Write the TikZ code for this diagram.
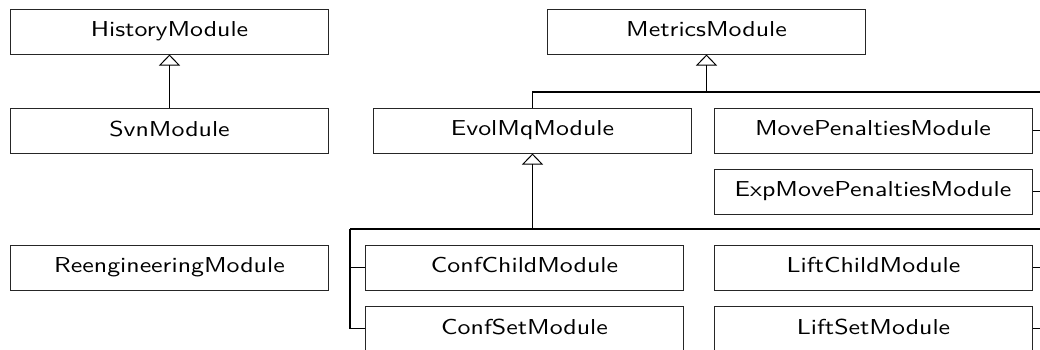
\documentclass[tikz,border=0pt]{standalone}
\usepackage{graphicx}
\usetikzlibrary{arrows.meta}
% module names: 10pt sans serif, enlarged and widened
\newcommand{\modname}[1]{\scalebox{1.94}[1.62]{\vphantom{Hy}#1}}
\begin{document}
\begin{tikzpicture}[x=0.75pt, y=-0.75pt,
  modbox/.style={draw=black!85, line width=0.75pt, rectangle, inner sep=0pt,
    minimum width=238.5pt, minimum height=33.75pt,
    font=\fontsize{10}{12}\selectfont\sffamily},
  link/.style={draw=black, line width=0.9pt},
  inh/.style={link, -{Triangle[open, length=8.25pt, width=15.75pt, line width=0.75pt]}}]
\useasboundingbox (0,0) rectangle (1040,350);
\clip (0,0) rectangle (1040,350);

% history branch
\node[modbox] (hist) at (169.5,31.5) {\modname{HistoryModule}};
\node[modbox] (svn) at (169.5,130.5) {\modname{SvnModule}};
\node[modbox] (reeng) at (169.5,267.5) {\modname{ReengineeringModule}};

% metrics branch
\node[modbox] (metrics) at (706.5,31.5) {\modname{MetricsModule}};
\node[modbox] (evol) at (532.5,130.5) {\modname{EvolMqModule}};
\node[modbox] (movepen) at (873,130.5) {\modname{MovePenaltiesModule}};
\node[modbox] (expmove) at (873,191.5) {\modname{ExpMovePenaltiesModule}};

% evolmq subclasses
\node[modbox] (confchild) at (524.5,267.5) {\modname{ConfChildModule}};
\node[modbox] (confset) at (524.5,328.5) {\modname{ConfSetModule}};
\node[modbox] (liftchild) at (873.5,267.5) {\modname{LiftChildModule}};
\node[modbox] (liftset) at (873.5,328.5) {\modname{LiftSetModule}};

% junctions and bus ends
\coordinate (mj) at (metrics.south |- 0,92);
\coordinate (mbus) at (1050,92);
\coordinate (ej) at (evol.south |- 0,229);
\coordinate (ebusl) at (350,229);
\coordinate (ebusr) at (1050,229);

% HistoryModule hierarchy
\draw[inh] (svn.north) -- (hist.south);

% MetricsModule hierarchy
\draw[inh] (evol.north) |- (mj) -- (metrics.south);
\draw[link] (mj) -- (mbus);
\draw[link] (movepen.east) -- (movepen.east -| mbus);
\draw[link] (expmove.east) -- (expmove.east -| mbus);

% EvolMqModule hierarchy
\draw[inh] (ej) -- (evol.south);
\draw[link] (ebusl) -- (ebusr);
\draw[link] (ebusl) |- (confchild.west);
\draw[link] (ebusl) |- (confset.west);
\draw[link] (liftchild.east) -- (liftchild.east -| ebusr);
\draw[link] (liftset.east) -- (liftset.east -| ebusr);
\end{tikzpicture}
\end{document}
